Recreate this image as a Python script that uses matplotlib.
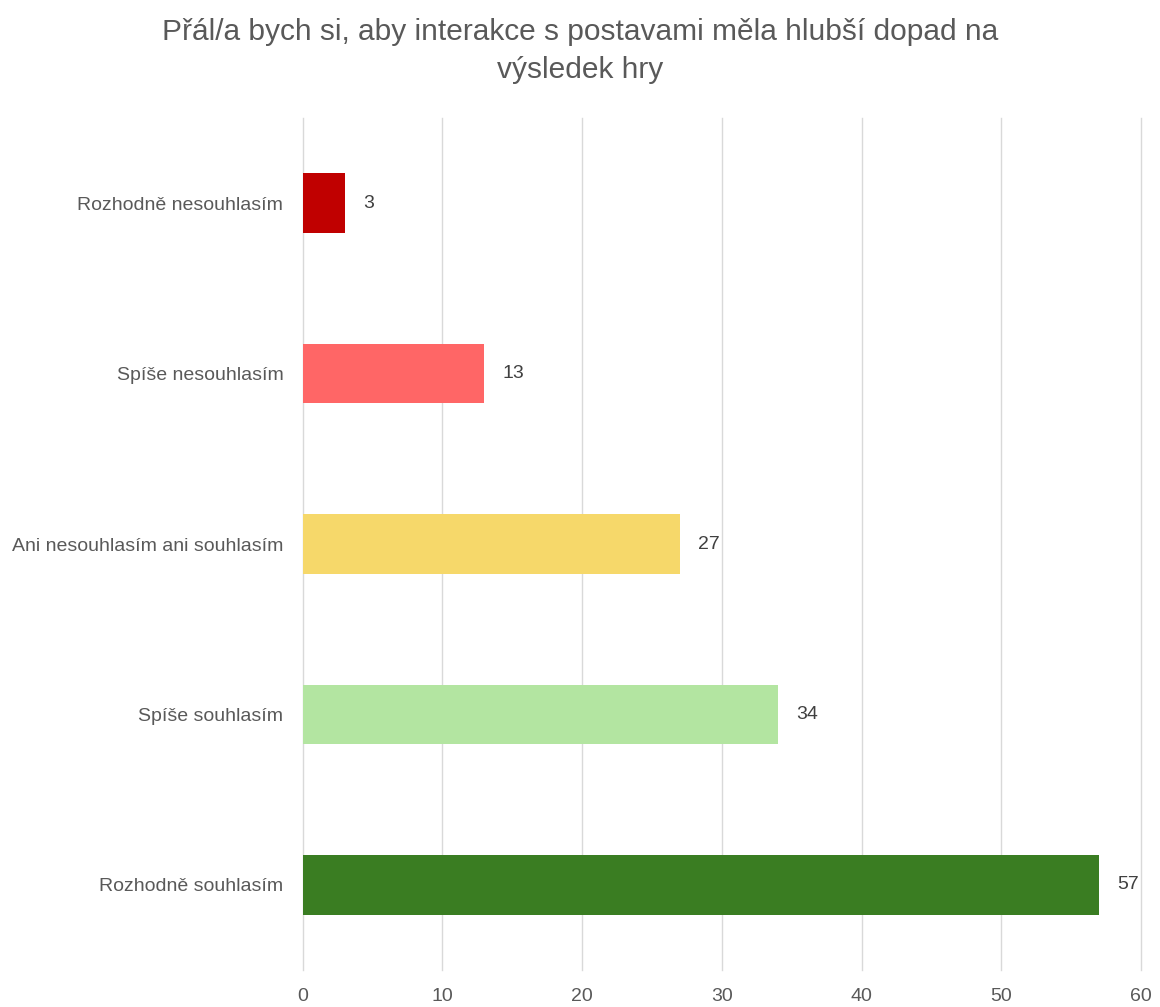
import matplotlib
matplotlib.use("Agg")
import matplotlib.pyplot as plt

# ======================
# DATA
# ======================

categories = [
    "Rozhodně nesouhlasím",
    "Spíše nesouhlasím",
    "Ani nesouhlasím ani souhlasím",
    "Spíše souhlasím",
    "Rozhodně souhlasím",
]
counts = [3, 13, 27, 34, 57]
bar_colors = ["#C00000", "#FF6666", "#F6D86A", "#B3E5A1", "#3A7D22"]
x_ticks = [0, 10, 20, 30, 40, 50, 60]
title = "Přál/a bych si, aby interakce s postavami měla hlubší dopad na\nvýsledek hry"

# ======================
# STYLE
# ======================

plt.rcParams["font.family"] = ["Liberation Sans", "DejaVu Sans"]
text_gray = "#595959"

fig = plt.figure(figsize=(11.6, 10.07), dpi=100)
ax = fig.add_axes([0.261, 0.0367, 0.7226, 0.8461])

y = list(range(len(categories)))
ax.barh(y, counts, height=0.35, color=bar_colors, zorder=3)

for yi, v in zip(y, counts):
    ax.annotate(str(v), (v, yi), xytext=(13, 0), textcoords="offset points",
                va="center", ha="left", fontsize=14, color="#404040")

ax.set_xlim(0, 60)
ax.set_ylim(4.5, -0.5)
ax.set_xticks(x_ticks)
ax.set_yticks(y)
ax.set_yticklabels(categories)
ax.tick_params(axis="both", length=0, labelsize=14, labelcolor=text_gray)
ax.tick_params(axis="x", pad=13)
ax.tick_params(axis="y", pad=14)
ax.grid(axis="x", color="#D9D9D9", linewidth=1, zorder=0)
for gl in ax.get_xgridlines():
    gl.set_clip_on(False)
for s in ax.spines.values():
    s.set_visible(False)

fig.text(0.5, 0.949, title, ha="center", va="center", fontsize=21.5,
         color=text_gray, linespacing=1.45)

fig.savefig("out.png", dpi=100, facecolor="white")
